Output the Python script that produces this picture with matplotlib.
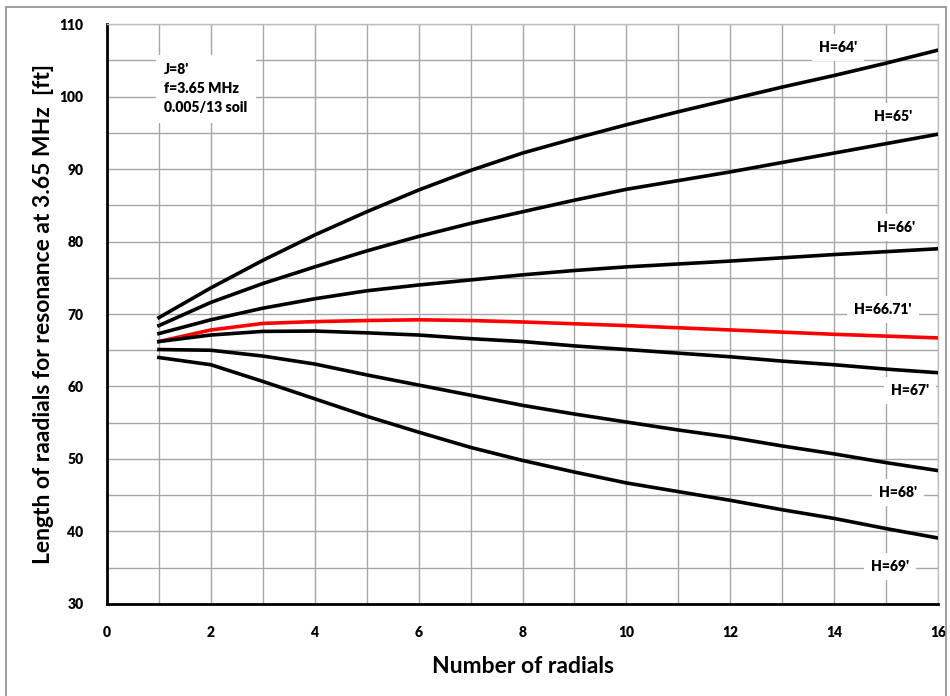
import matplotlib.pyplot as plt
from matplotlib.patches import Rectangle

plt.rcParams['font.family'] = ['Lato', 'DejaVu Sans']

# number of radials
radials = list(range(1, 17))

# radial length (ft) for resonance, one series per antenna height H
h64 = [69.5, 73.6, 77.4, 80.9, 84.1, 87.1, 89.8, 92.2, 94.2, 96.1, 97.9, 99.6, 101.3, 102.9, 104.6, 106.4]
h65 = [68.4, 71.6, 74.2, 76.5, 78.7, 80.7, 82.5, 84.1, 85.7, 87.2, 88.4, 89.6, 90.9, 92.2, 93.5, 94.8]
h66 = [67.3, 69.2, 70.8, 72.1, 73.2, 74.0, 74.7, 75.4, 76.0, 76.5, 76.9, 77.3, 77.75, 78.2, 78.6, 79.0]
h6671 = [66.2, 67.8, 68.7, 68.95, 69.1, 69.2, 69.1, 68.9, 68.65, 68.4, 68.1, 67.8, 67.5, 67.2, 66.95, 66.7]
h67 = [66.2, 67.1, 67.6, 67.65, 67.4, 67.1, 66.6, 66.2, 65.6, 65.1, 64.6, 64.1, 63.5, 63.0, 62.4, 61.9]
h68 = [65.1, 65.0, 64.2, 63.1, 61.6, 60.2, 58.8, 57.4, 56.2, 55.1, 54.0, 53.0, 51.8, 50.7, 49.5, 48.4]
h69 = [64.0, 63.0, 60.7, 58.3, 55.9, 53.7, 51.6, 49.8, 48.2, 46.7, 45.5, 44.3, 43.0, 41.8, 40.4, 39.1]

series = [h64, h65, h66, h6671, h67, h68, h69]
labels = ["H=64'", "H=65'", "H=66'", "H=66.71'", "H=67'", "H=68'", "H=69'"]
colors = ['black', 'black', 'black', 'red', 'black', 'black', 'black']
label_pos = [(14.07, 106.8), (15.13, 97.2), (15.2, 81.9), (14.94, 70.6),
             (15.46, 59.5), (15.23, 45.4), (15.07, 35.2)]

fig = plt.figure(figsize=(9.5, 6.96), dpi=100)
ax = fig.add_axes([0.1126, 0.1322, 0.8748, 0.8333])

# outer frame of the chart area
fig.patches.append(Rectangle((0.006, -0.01), 0.99, 1.0, transform=fig.transFigure,
                             fill=False, edgecolor='#8c8c8c', linewidth=1.2))

for ys, c in zip(series, colors):
    ax.plot(radials, ys, color=c, linewidth=2.6, solid_joinstyle='round', zorder=3)

ax.set_xlim(0, 16)
ax.set_ylim(30, 110)
ax.set_xticks(range(0, 17, 2))
ax.set_xticks(range(0, 17), minor=True)
ax.set_yticks(range(30, 111, 10))
ax.set_yticks(range(30, 111, 5), minor=True)
ax.grid(True, which='both', color='#a6a6a6', linewidth=1.0, zorder=0)
ax.tick_params(which='both', length=0)
ax.tick_params(axis='x', pad=16)
ax.tick_params(axis='y', pad=17)
for lab in ax.get_xticklabels() + ax.get_yticklabels():
    lab.set_fontweight('heavy')
    lab.set_fontsize(10)

for side in ['left', 'bottom']:
    ax.spines[side].set_color('black')
    ax.spines[side].set_linewidth(2)
for side in ['top', 'right']:
    ax.spines[side].set_color('#bfbfbf')
    ax.spines[side].set_linewidth(1)

ax.set_xlabel('Number of radials', fontsize=16.5, fontweight='bold', labelpad=12)
ax.set_ylabel('Length of raadials for resonance at 3.65 MHz  [ft]', fontsize=16.5,
              fontweight='bold', labelpad=4)

for lab, (lx, ly) in zip(labels, label_pos):
    ax.text(lx, ly, lab, fontsize=10, fontweight='heavy', ha='center', va='center',
            zorder=4, bbox=dict(facecolor='white', edgecolor='none', pad=5))

ax.text(1.1, 104.6, "J=8'\nf=3.65 MHz\n0.005/13 soil", fontsize=10, fontweight='heavy',
        ha='left', va='top', linespacing=1.55, zorder=4,
        bbox=dict(facecolor='white', edgecolor='none', pad=6))

fig.savefig('out.png', dpi=100)
